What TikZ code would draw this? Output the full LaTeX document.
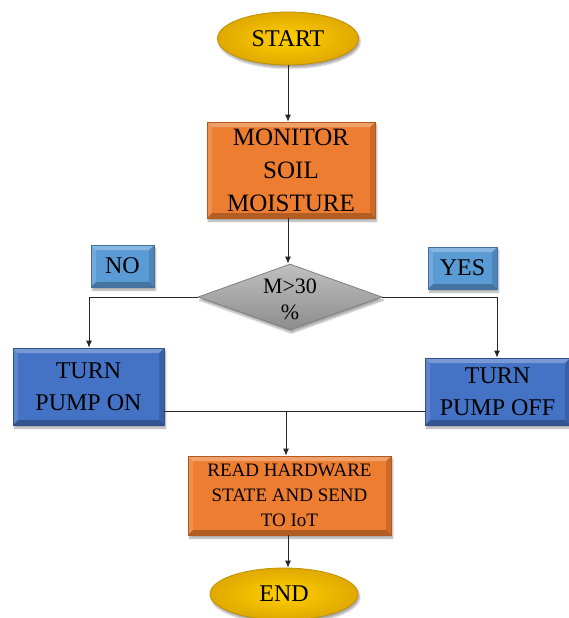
\documentclass[tikz,border=0pt]{standalone}
\usepackage{fontspec}
\setmainfont{Liberation Serif}
\usetikzlibrary{shapes.geometric,arrows.meta,shadows.blur}
\definecolor{gold}{HTML}{FFC000}
\definecolor{goldline}{HTML}{BF9000}
\definecolor{orng}{HTML}{ED7D31}
\definecolor{orngline}{HTML}{B45A1E}
\definecolor{blu}{HTML}{4472C4}
\definecolor{bluline}{HTML}{2F528F}
\definecolor{lblu}{HTML}{5B9BD5}
\definecolor{lbluline}{HTML}{41719C}
\definecolor{gry}{HTML}{A5A5A5}
\definecolor{gryline}{HTML}{7F7F7F}
\tikzset{
  x=1pt,y=-1pt,
  shd/.style={blur shadow={shadow xshift=1.5pt,shadow yshift=-3pt,shadow opacity=35,shadow blur steps=6}},
  bevel/.style={path picture={
    \fill[white,opacity=0.28] (path picture bounding box.north west) -- (path picture bounding box.north east)
      -- ([xshift=-5pt,yshift=-5pt]path picture bounding box.north east) -- ([xshift=5pt,yshift=-5pt]path picture bounding box.north west) -- cycle;
    \fill[white,opacity=0.14] (path picture bounding box.north west) -- (path picture bounding box.south west)
      -- ([xshift=5pt,yshift=5pt]path picture bounding box.south west) -- ([xshift=5pt,yshift=-5pt]path picture bounding box.north west) -- cycle;
    \fill[black,opacity=0.25] (path picture bounding box.south west) -- (path picture bounding box.south east)
      -- ([xshift=-5pt,yshift=5pt]path picture bounding box.south east) -- ([xshift=5pt,yshift=5pt]path picture bounding box.south west) -- cycle;
    \fill[black,opacity=0.14] (path picture bounding box.north east) -- (path picture bounding box.south east)
      -- ([xshift=-5pt,yshift=5pt]path picture bounding box.south east) -- ([xshift=-5pt,yshift=-5pt]path picture bounding box.north east) -- cycle;
  }},
  terminal/.style={ellipse,draw=goldline,inner color=gold!75!yellow,outer color=gold!88!black,line width=0.8pt,inner sep=0pt,shd,font=\fontsize{24}{28}\selectfont},
  procbox/.style={rectangle,draw=orngline,fill=orng,line width=0.8pt,inner sep=0pt,align=center,shd,bevel},
  pumpbox/.style={rectangle,draw=bluline,fill=blu,line width=0.8pt,inner sep=0pt,align=center,shd,bevel,font=\fontsize{24}{32}\selectfont},
  tagbox/.style={rectangle,draw=lbluline,fill=lblu,line width=0.8pt,inner sep=0pt,shd,bevel,font=\fontsize{24}{28}\selectfont},
  decision/.style={diamond,draw=gryline,top color=gry!70!white,bottom color=gry!85!black,line width=0.8pt,inner sep=0pt,shd},
  conn/.style={draw=black!85,line width=0.8pt},
  arr/.style={conn,-{Latex[length=7pt,width=6pt]}}
}
\begin{document}
\begin{tikzpicture}
\useasboundingbox (0,0) rectangle (568,618);
\node[terminal,minimum width=141pt,minimum height=53pt] (start) at (288,38.5) {START};
\node[procbox,minimum width=168pt,minimum height=96pt,font=\fontsize{25}{33}\selectfont] (monitor) at (291,170) {MONITOR\\SOIL\\MOISTURE};
\node[decision,minimum width=184pt,minimum height=66pt] (dec) at (290,297) {};
\node[align=center,font=\fontsize{22}{26}\selectfont,inner sep=0pt] (dectxt) at (290,299) {M>30\\\%};
\node[tagbox,minimum width=63pt,minimum height=42pt] (no) at (122.5,266) {NO};
\node[tagbox,minimum width=69pt,minimum height=42pt] (yes) at (462.5,268) {YES};
\node[pumpbox,minimum width=151pt,minimum height=77pt] (on) at (88.5,386.5) {TURN\\PUMP ON};
\node[pumpbox,minimum width=145pt,minimum height=67pt] (off) at (497.5,391.5) {TURN\\PUMP OFF};
\node[procbox,minimum width=203pt,minimum height=79pt,font=\fontsize{19}{25}\selectfont] (read) at (289.5,495.5) {READ HARDWARE\\STATE AND SEND\\TO IoT};
\node[terminal,minimum width=148pt,minimum height=52pt] (end) at (284,594) {END};
\coordinate (lturn) at (89,297);
\coordinate (rturn) at (497,297);
\coordinate (join) at (286,411);
\draw[arr] (start.south) -- (start.south |- monitor.north);
\draw[arr] (monitor.south -| start) -- (dec.north -| start);
\draw[arr] (dec.west) -- (dec.west -| lturn) -- (lturn |- on.north);
\draw[arr] (dec.east) -- (dec.east -| rturn) -- (rturn |- off.north);
\draw[conn] (on.east |- join) -- (off.west |- join);
\draw[arr] (join) -- (join |- read.north);
\draw[arr] (read.south -| start) -- (end.north -| start);
\end{tikzpicture}
\end{document}
